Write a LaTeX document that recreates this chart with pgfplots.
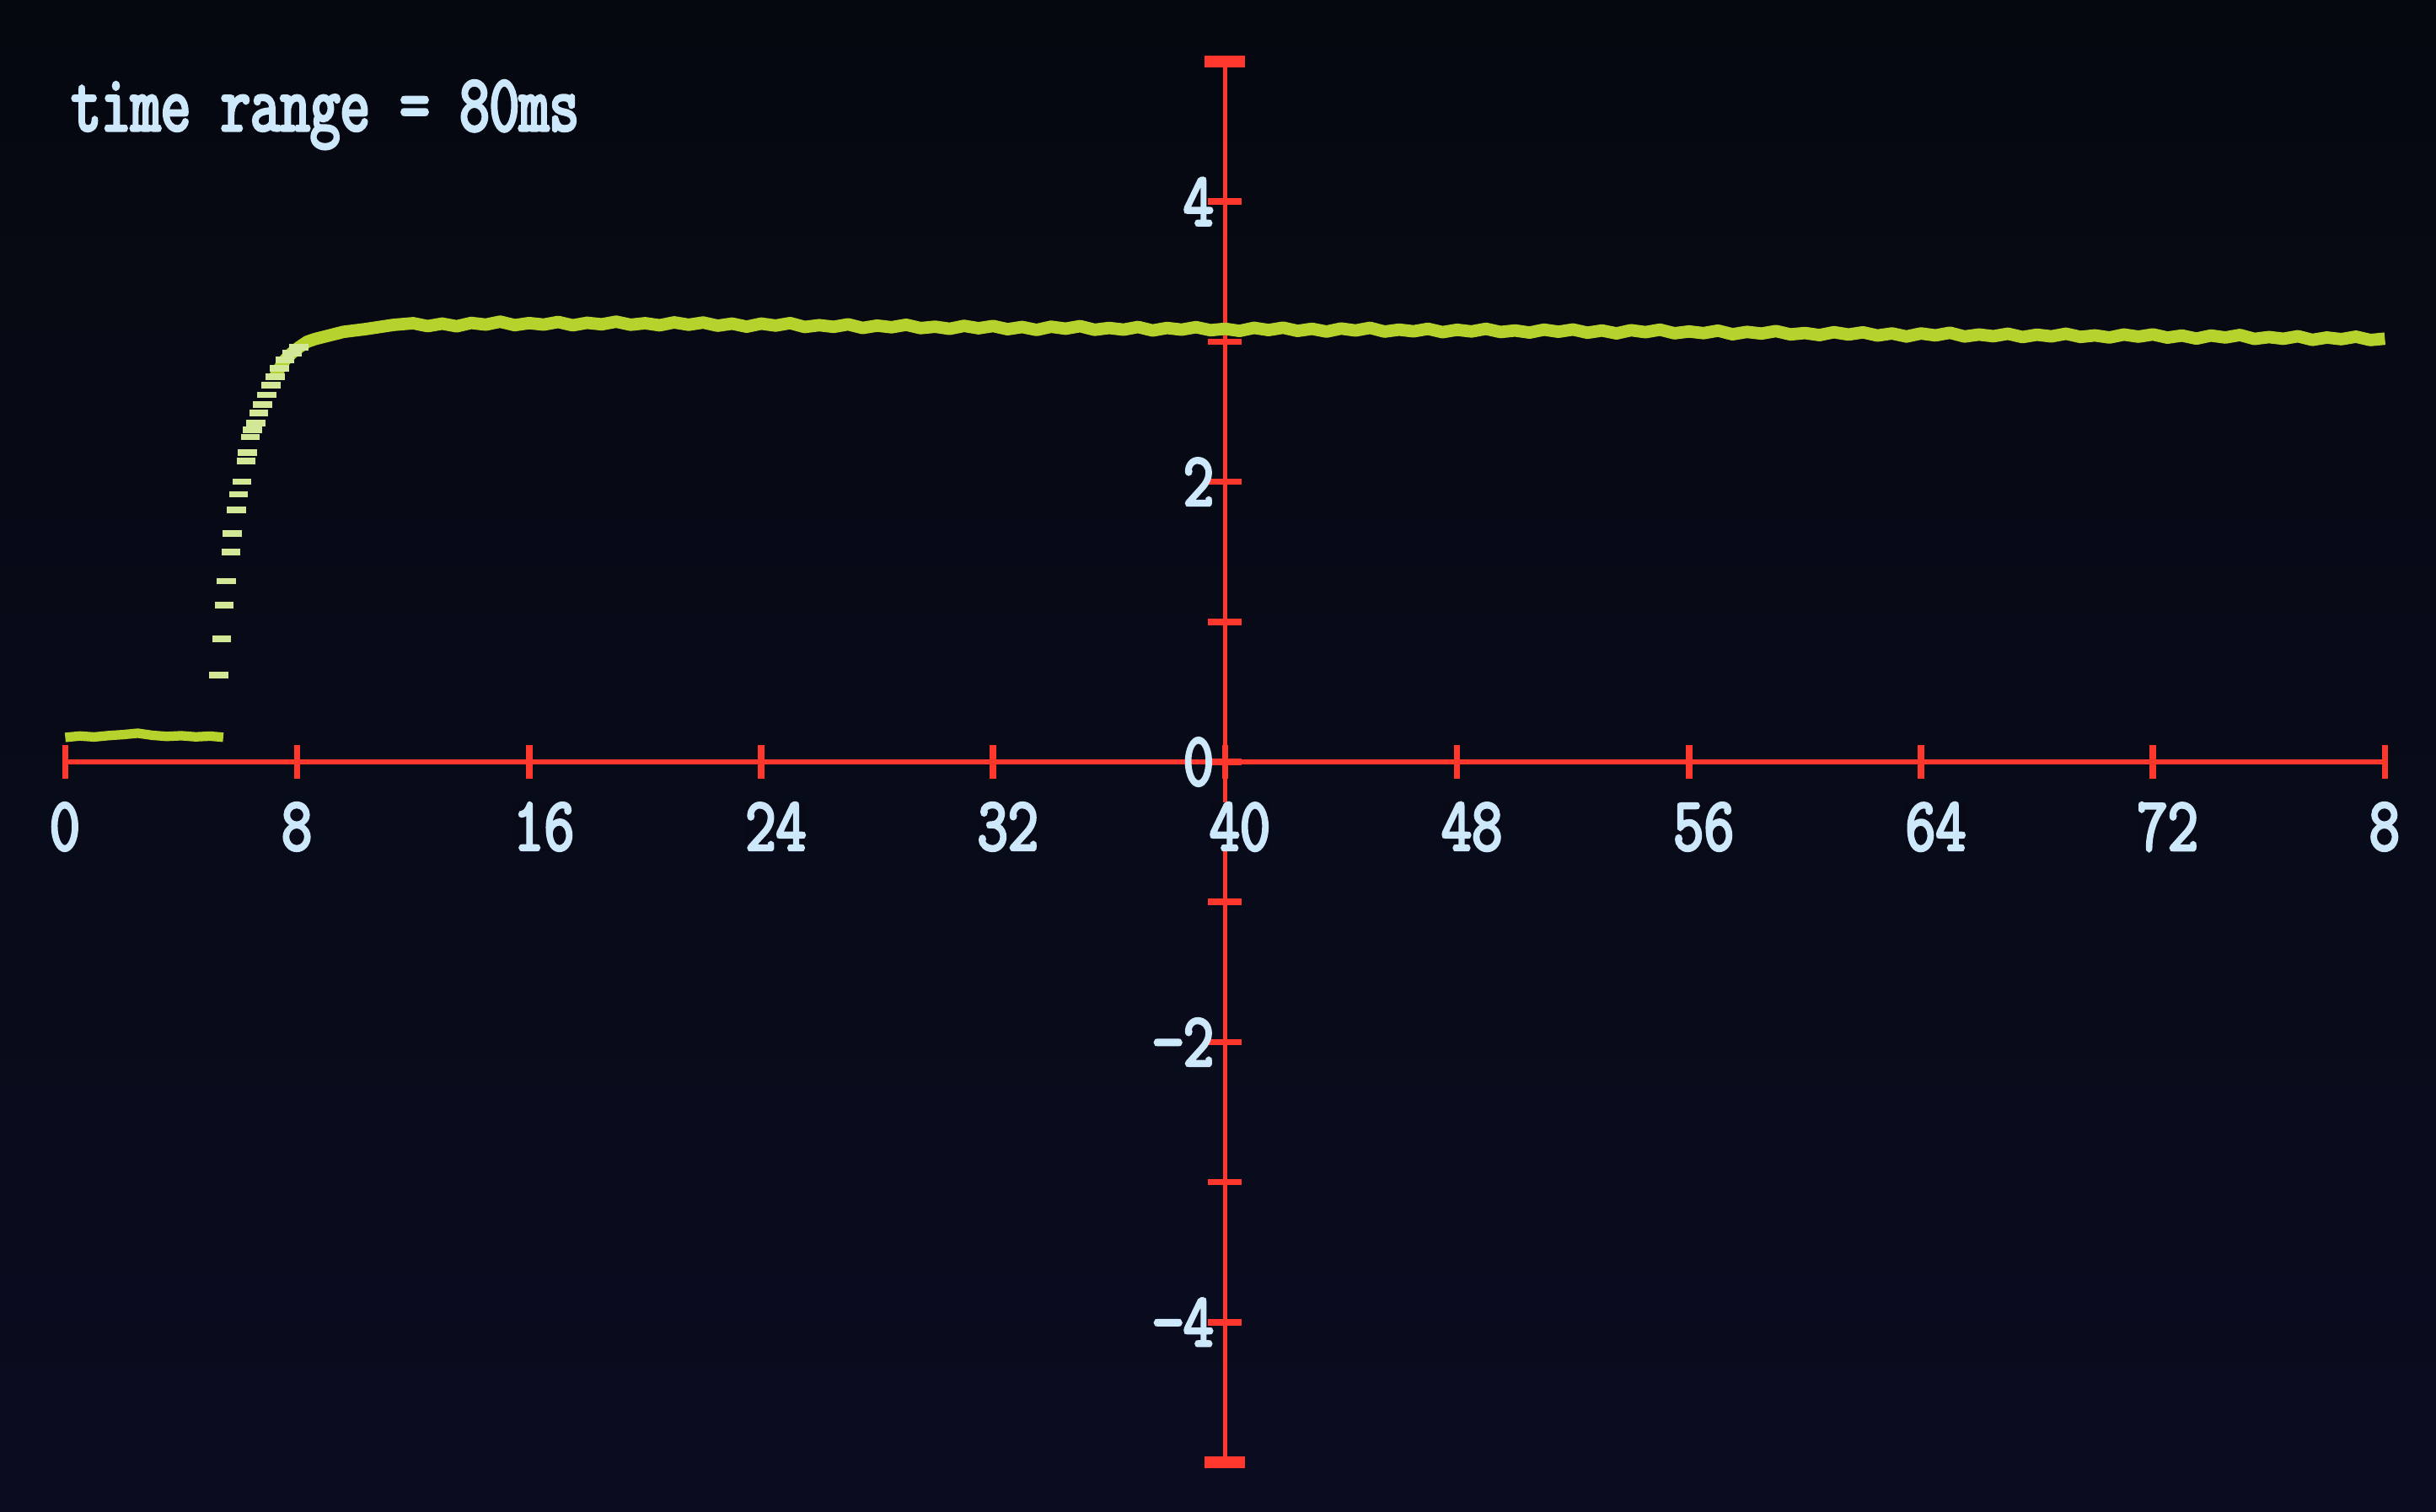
\documentclass[border=0pt]{standalone}
\usepackage{fontspec}
\usepackage{pgfplots}
\pgfplotsset{compat=1.18}
\newfontfamily\oscfont{Latin Modern Mono}[FakeStretch=0.78, FakeBold=3.5]
\newfontfamily\osctitle{Latin Modern Mono}[FakeStretch=0.72, FakeBold=3.5]

\definecolor{scrbg}{RGB}{6,8,16}
\definecolor{scrbgb}{RGB}{10,13,32}
\definecolor{axred}{RGB}{255,55,45}
\definecolor{lblue}{RGB}{205,232,250}
\definecolor{trace}{RGB}{182,210,44}
\definecolor{dotc}{RGB}{210,232,150}

\begin{document}
\begin{tikzpicture}
  % screen background
  \shade[top color=scrbg, bottom color=scrbgb] (0,0) rectangle (14.45,8.97);

  \begin{axis}[
    at={(0.387cm,0.295cm)}, anchor=south west,
    scale only axis, width=13.76cm, height=8.31cm,
    xmin=0, xmax=80, ymin=-5, ymax=5,
    % put the vertical axis in the middle of the time range
    x coord trafo/.code={\pgfmathparse{#1-40}},
    x coord inv trafo/.code={\pgfmathparse{#1+40}},
    axis lines=middle,
    axis line style={-, draw=axred, line width=0.8pt},
    hide obscured x ticks=false, hide obscured y ticks=false,
    tick align=center, major tick length=0.2cm,
    tick style={draw=axred, line width=1.1pt},
    xtick={0,8,...,80},
    xticklabels={0,8,16,24,32,40,48,56,64,72,8},
    ytick={-4,-3,...,4},
    yticklabels={−4,,−2,,0,,2,,4},
    extra y ticks={-5,5}, extra y tick labels={},
    extra y tick style={major tick length=0.24cm, major tick style={line width=2pt}},
    tick label style={font=\oscfont\fontsize{12.8}{15}\selectfont,
      text=lblue, inner sep=0pt},
    x tick label style={anchor=north west, xshift=-0.1cm, yshift=-0.135cm,
      fill=scrbg!50!scrbgb},
    y tick label style={anchor=east, xshift=0.04cm},
    /pgf/number format/assume math mode=true,
    clip=false,
  ]

    % ----------------------------------------------------------
    % pre-trigger baseline
    % ----------------------------------------------------------
    \addplot[trace, line width=1.6pt] coordinates {
      (0.0,0.175) (0.5,0.185) (1.0,0.178) (1.5,0.188) (2.0,0.195)
      (2.5,0.205) (3.0,0.190) (3.5,0.182) (4.0,0.187) (4.5,0.179)
      (5.0,0.184) (5.45,0.176)
    };

    % ----------------------------------------------------------
    % rising edge: single samples
    % ----------------------------------------------------------
    \addplot[only marks, mark=-, mark size=1.6pt,
      mark options={draw=dotc, line width=1.1pt}] coordinates {
      (5.30,0.62) (5.39,0.88) (5.49,1.12) (5.56,1.29) (5.71,1.50)
      (5.76,1.63) (5.90,1.80) (5.97,1.91) (6.09,2.00) (6.24,2.15)
      (6.28,2.21) (6.38,2.32) (6.45,2.37) (6.57,2.42) (6.67,2.49)
      (6.81,2.55) (6.95,2.62) (7.10,2.69) (7.24,2.75) (7.39,2.81)
      (7.58,2.87) (7.82,2.92) (8.06,2.96)
    };

    % ----------------------------------------------------------
    % settled level
    % ----------------------------------------------------------
    \addplot[trace, line width=2.1pt, line join=round] coordinates {
      (7.24,2.75) (7.39,2.81) (7.58,2.87) (7.82,2.92) (8.06,2.96)
      (8.35,3.00) (8.63,3.02) (9.02,3.04) (9.59,3.07) (10.36,3.09)
      (11.32,3.12)
      (12.0,3.132) (12.5,3.111) (13.0,3.129) (13.5,3.110) (14.0,3.134)
      (14.5,3.122) (15.0,3.143) (15.5,3.118) (16.0,3.133) (16.5,3.122)
      (17.0,3.141) (17.5,3.117) (18.0,3.135) (18.5,3.124) (19.0,3.143)
      (19.5,3.121) (20.0,3.132) (20.5,3.117) (21.0,3.138) (21.5,3.121)
      (22.0,3.137) (22.5,3.114) (23.0,3.129) (23.5,3.107) (24.0,3.129)
      (24.5,3.115) (25.0,3.133) (25.5,3.105) (26.0,3.118) (26.5,3.106)
      (27.0,3.124) (27.5,3.098) (28.0,3.115) (28.5,3.103) (29.0,3.121)
      (29.5,3.097) (30.0,3.107) (30.5,3.092) (31.0,3.113) (31.5,3.096)
      (32.0,3.112) (32.5,3.089) (33.0,3.105) (33.5,3.084) (34.0,3.107)
      (34.5,3.093) (35.0,3.111) (35.5,3.085) (36.0,3.098) (36.5,3.086)
      (37.0,3.105) (37.5,3.080) (38.0,3.098) (38.5,3.086) (39.0,3.104)
      (39.5,3.082) (40.0,3.092) (40.5,3.077) (41.0,3.099) (41.5,3.083)
      (42.0,3.100) (42.5,3.077) (43.0,3.092) (43.5,3.072) (44.0,3.094)
      (44.5,3.080) (45.0,3.099) (45.5,3.072) (46.0,3.086) (46.5,3.074)
      (47.0,3.092) (47.5,3.068) (48.0,3.085) (48.5,3.073) (49.0,3.092)
      (49.5,3.069) (50.0,3.080) (50.5,3.065) (51.0,3.086) (51.5,3.071)
      (52.0,3.087) (52.5,3.064) (53.0,3.080) (53.5,3.059) (54.0,3.082)
      (54.5,3.068) (55.0,3.086) (55.5,3.060) (56.0,3.073) (56.5,3.061)
      (57.0,3.079) (57.5,3.053) (58.0,3.070) (58.5,3.058) (59.0,3.076)
      (59.5,3.052) (60.0,3.062) (60.5,3.047) (61.0,3.068) (61.5,3.051)
      (62.0,3.067) (62.5,3.044) (63.0,3.059) (63.5,3.037) (64.0,3.059)
      (64.5,3.045) (65.0,3.064) (65.5,3.037) (66.0,3.051) (66.5,3.039)
      (67.0,3.057) (67.5,3.033) (68.0,3.050) (68.5,3.038) (69.0,3.057)
      (69.5,3.034) (70.0,3.045) (70.5,3.030) (71.0,3.051) (71.5,3.036)
      (72.0,3.052) (72.5,3.029) (73.0,3.044) (73.5,3.022) (74.0,3.044)
      (74.5,3.030) (75.0,3.048) (75.5,3.020) (76.0,3.033) (76.5,3.021)
      (77.0,3.039) (77.5,3.013) (78.0,3.030) (78.5,3.018) (79.0,3.036)
      (79.5,3.012) (80.0,3.022)
    };
  \end{axis}

  \node[anchor=base west, inner sep=0pt, text=lblue,
    font=\osctitle\fontsize{13.6}{15}\selectfont]
    at (0.415,8.195) {time range = 80ms};

  \pgfresetboundingbox
  \path (0,0) rectangle (14.45,8.97);
\end{tikzpicture}
\end{document}
